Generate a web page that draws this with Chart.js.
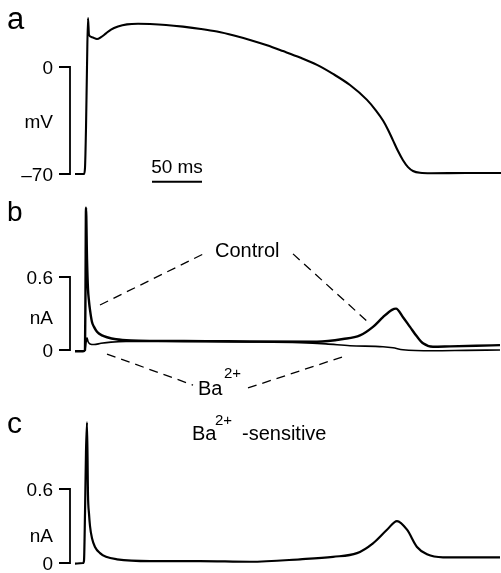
<!DOCTYPE html>
<html>
<head>
<meta charset="utf-8">
<script src="https://cdn.jsdelivr.net/npm/chart.js@4/dist/chart.umd.min.js"></script>
<style>
html,body{margin:0;padding:0;background:#fff;}
#wrap{position:relative;width:501px;height:573px;}
canvas{display:block;}
</style>
</head>
<body>
<div id="wrap"><canvas id="c" width="501" height="573"></canvas></div>
<script>
// ---------- DATA (time in ms from upstroke) ----------
// Panel a: action potential (mV)
const apT = [-11,-3,-2,-1,0,1,2,3,6,11,15,20,25,32,41,52,64,80,97,115,131,148,164,181,197,214,231,247,264,281,290,297,302,307,312,317,322,327,334,345,380,415];
const apV = [-70,-70,-70,-66,-40,0,32,21,19.5,18.3,19.5,22,24.5,26.5,27.9,28.3,28.1,27.5,26.4,24.9,23.2,20.6,17.7,14.2,10.4,6.2,1.4,-4.5,-11.8,-21.5,-28.5,-35,-41,-48,-55,-61,-65.5,-68,-69.2,-69.5,-69.3,-69.3];
// Panel b: control current (nA)
const ctT = [-11,-3,-1,-0.5,0,1,2,3,4,6,8,11,16,21,30,45,70,120,164,231,257,274,287,297,306,310,317,324,331,337,347,364,390,414];
const ctI = [-0.01,-0.01,0,0.5,1.17,0.75,0.5,0.4,0.33,0.23,0.19,0.15,0.12,0.105,0.088,0.078,0.075,0.073,0.07,0.068,0.09,0.12,0.19,0.27,0.33,0.34,0.27,0.19,0.11,0.055,0.027,0.03,0.035,0.04];
// Panel b: current in Ba2+ (nA)
const baT = [-11,-3,-1,0,1,2,4,8,15,25,40,80,164,214,240,264,297,307,317,347,380,414];
const baI = [-0.01,-0.01,0,0.06,0.1,0.07,0.05,0.045,0.055,0.065,0.07,0.07,0.066,0.06,0.05,0.035,0.027,0.018,0.002,-0.006,-0.003,0];
// Panel c: Ba2+-sensitive current (nA)
const seT = [-11,-3,-2,-1,0,1,2,3,4,6,9,14,20,31,64,114,164,214,247,271,287,301,311,321,331,341,357,390,414];
const seI = [-0.005,0,0.02,0.4,0.9,1.14,0.55,0.4,0.3,0.2,0.13,0.08,0.05,0.03,0.016,0.016,0.01,0.03,0.05,0.08,0.16,0.27,0.34,0.27,0.13,0.07,0.046,0.046,0.046];
// Tick labels
const ticksA = [0,-70];
const ticksB = [0.6,0];
const ticksC = [0.6,0];
const unitA = 'mV', unitI = 'nA';
const scaleBarMs = 50;

// ---------- LAYOUT ----------
const W = 501, H = 573;
function yRange(vTop, pTop, vBot, pBot){
  const ppu = (pBot - pTop) / (vTop - vBot);
  const max = vTop + pTop / ppu;
  const min = max - H / ppu;
  return {min, max};
}
const ra = yRange(0, 67, -70, 174);
const rb = yRange(0.6, 277, 0, 350);
const rc = yRange(0.6, 489, 0, 563);
const xr = {min: -86, max: 415};

const pts = (t, v) => t.map((x, i) => ({x, y: v[i]}));
const trace = (data, axis, w) => ({data, yAxisID: axis, borderColor: '#000', borderWidth: w,
  pointRadius: 0, fill: false, cubicInterpolationMode: 'monotone'});
const deco = (data, axis, w, dash) => ({data, yAxisID: axis, borderColor: '#000', borderWidth: w,
  pointRadius: 0, fill: false, tension: 0, borderDash: dash || [], borderCapStyle: 'butt'});

const bx0 = -27, bx1 = -16; // bracket horizontal extents (ms units)
const bracket = (ticks) => [{x: bx0, y: ticks[0]}, {x: bx1, y: ticks[0]}, {x: bx1, y: ticks[1]}, {x: bx0, y: ticks[1]}];

const datasets = [
  trace(pts(apT, apV), 'ya', 2.1),
  trace(pts(baT, baI), 'yb', 1.6),
  trace(pts(ctT, ctI), 'yb', 2.4),
  trace(pts(seT, seI), 'yc', 2.2),
  deco(bracket(ticksA), 'ya', 1.8),
  deco(bracket(ticksB), 'yb', 1.8),
  deco(bracket(ticksC), 'yc', 1.8),
  deco([{x: 66, y: -75}, {x: 66 + scaleBarMs, y: -75}], 'ya', 2),
  // dashed leader lines (panel b)
  deco([{x: 14, y: 0.37}, {x: 120, y: 0.80}], 'yb', 1.3, [9, 6]),
  deco([{x: 207, y: 0.79}, {x: 282, y: 0.23}], 'yb', 1.3, [9, 6]),
  deco([{x: 21, y: -0.033}, {x: 107, y: -0.288}], 'yb', 1.3, [9, 6]),
  deco([{x: 162, y: -0.312}, {x: 256, y: -0.058}], 'yb', 1.3, [9, 6])
];

const FONT = '"Liberation Sans", Arial, Helvetica, sans-serif';

const textPlugin = {
  id: 'texts',
  afterDatasetsDraw(chart) {
    const ctx = chart.ctx;
    const X = chart.scales.x, A = chart.scales.ya, B = chart.scales.yb, C = chart.scales.yc;
    const put = (txt, x, y, size, align, base) => {
      ctx.font = size + 'px ' + FONT;
      ctx.textAlign = align || 'left';
      ctx.textBaseline = base || 'alphabetic';
      ctx.fillStyle = '#000';
      ctx.fillText(txt, x, y);
    };
    ctx.save();
    // panel letters
    put('a', 7, 29, 31);
    put('b', 7, 221, 28);
    put('c', 7, 433, 30);
    // tick labels
    const lx = X.getPixelForValue(bx0) - 6;
    put(String(ticksA[0]), lx, A.getPixelForValue(ticksA[0]) + 7, 19, 'right');
    put('\u2013' + Math.abs(ticksA[1]), lx, A.getPixelForValue(ticksA[1]) + 7, 19, 'right');
    put(unitA, lx, (A.getPixelForValue(ticksA[0]) + A.getPixelForValue(ticksA[1])) / 2 + 7, 19, 'right');
    put(ticksB[0].toString(), lx, B.getPixelForValue(ticksB[0]) + 7, 19, 'right');
    put(String(ticksB[1]), lx, B.getPixelForValue(ticksB[1]) + 7, 19, 'right');
    put(unitI, lx, B.getPixelForValue(0.27) + 7, 19, 'right');
    put(ticksC[0].toString(), lx, C.getPixelForValue(ticksC[0]) + 7, 19, 'right');
    put(String(ticksC[1]), lx, C.getPixelForValue(ticksC[1]) + 7, 19, 'right');
    put(unitI, lx, C.getPixelForValue(0.23) + 7, 19, 'right');
    // scale bar label
    put(scaleBarMs + ' ms', X.getPixelForValue(66 + scaleBarMs / 2), A.getPixelForValue(-69.3), 19, 'center');
    // annotations
    put('Control', X.getPixelForValue(129), B.getPixelForValue(0.765), 20);
    put('Ba', X.getPixelForValue(112), B.getPixelForValue(-0.37), 20);
    put('2+', X.getPixelForValue(138), B.getPixelForValue(-0.23), 15);
    put('Ba', X.getPixelForValue(106), C.getPixelForValue(1.0), 20);
    put('2+', X.getPixelForValue(129), C.getPixelForValue(1.12), 15);
    put('-sensitive', X.getPixelForValue(156), C.getPixelForValue(1.0), 20);
    ctx.restore();
  }
};

new Chart(document.getElementById('c'), {
  type: 'line',
  data: {datasets},
  options: {
    responsive: false,
    animation: false,
    events: [],
    layout: {padding: 0},
    plugins: {legend: {display: false}, tooltip: {enabled: false}},
    scales: {
      x: {type: 'linear', min: xr.min, max: xr.max, display: false},
      ya: {type: 'linear', min: ra.min, max: ra.max, display: false},
      yb: {type: 'linear', min: rb.min, max: rb.max, display: false},
      yc: {type: 'linear', min: rc.min, max: rc.max, display: false}
    }
  },
  plugins: [textPlugin]
});
</script>
</body>
</html>
